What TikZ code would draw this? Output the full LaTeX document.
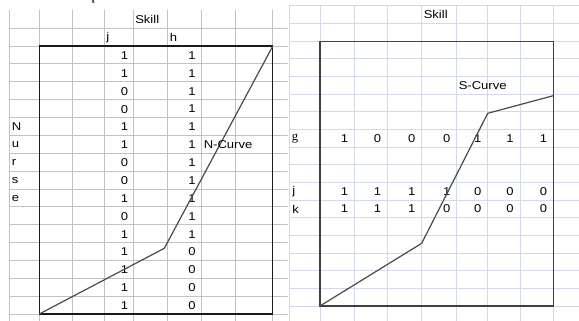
\documentclass[tikz,border=0pt]{standalone}
\usepackage{fontspec}
\setmainfont{Liberation Serif}
\newfontfamily\cellfont[FakeStretch=1.15]{Liberation Sans}
\usepackage{tikz}
\usetikzlibrary{positioning}
\definecolor{gridgray}{HTML}{C2C2C2}
\definecolor{gridblue}{HTML}{D2D9E7}
\definecolor{curvegray}{HTML}{4A4A4A}

\begin{document}
\begin{tikzpicture}[x=0.75pt,y=-0.75pt,
  cell/.style={font=\cellfont\fontsize{8.5}{10}\selectfont,inner sep=0pt},
  num/.style={cell,anchor=east},
  lab/.style={cell,anchor=west},
  frame/.style={line width=1.1pt,black!90},
  curve/.style={line width=0.9pt,curvegray}]
\useasboundingbox (0,0) rectangle (579,321);
\node[anchor=base west,inner sep=0pt,font=\fontsize{12}{14}\selectfont] (ptail) at (91,-0.8) {p};
% left sheet
\foreach \x in {9.3,39.3,72.7,104,133.3,167.7,201,235.3,272.7}
  \draw[gridgray,line width=0.75pt] (\x,10.4) -- (\x,321);
\foreach \k in {1,...,17}
  \draw[gridgray,line width=0.75pt] (9.3,10.4+17.86*\k) -- (288,10.4+17.86*\k);
\node[lab] (skillL) at (135,19.4) {Skill};
\node[lab] (jcol) at (106,37.3) {j};
\node[lab] (hcol) at (169.5,37.3) {h};
\foreach \j/\h [count=\r from 2] in {1/1,1/1,0/1,0/1,1/1,1/1,0/1,0/1,1/1,0/1,1/1,1/0,1/0,1/0,1/0} {
  \node[num] (j\r) at (128.3,10.4+17.86*\r+9.4) {\j};
  \node[num] (h\r) at (196,10.4+17.86*\r+9.4) {\h};
}
\foreach \c [count=\r from 6] in {N,u,r,s,e}
  \node[lab] (nurse\r) at (11.5,10.4+17.86*\r+9.4) {\c};
\coordinate (lbl) at (39.3,314);
\coordinate (ltr) at (272.7,46.2);
\coordinate (nkink) at (164.3,248.3);
\draw[frame] (lbl) rectangle (ltr);
\draw[curve] (lbl) -- (nkink) -- (ltr);
\node[lab] (ncurve) at (203.5,144.8) {N-Curve};
% right sheet
\foreach \x in {289.3,320,354.3,387.3,421.7,456.7,487.7,520,553.3}
  \draw[gridblue,line width=0.75pt] (\x,5) -- (\x,321);
\foreach \k in {0,...,17}
  \draw[gridblue,line width=0.75pt] (289.3,6+17.65*\k) -- (579,6+17.65*\k);
\node[lab] (skillR) at (423.5,14.8) {Skill};
\node[lab] (scurve) at (458.5,85.2) {S-Curve};
\node[lab,font=\rmfamily\fontsize{9.5}{11}\selectfont] (grow) at (291.5,138.4) {g};
\node[lab] (jrow) at (292,191.3) {j};
\node[lab] (krow) at (292,209) {k};
\foreach \g/\j/\k/\xr [count=\c] in {1/1/1/354.3,0/1/1/387.3,0/1/1/421.7,0/1/0/456.7,1/0/0/487.7,1/0/0/520,1/0/0/553.3} {
  \node[num] (g\c) at (\xr-6,138.4) {\g};
  \node[num] (jr\c) at (\xr-6,191.3) {\j};
  \node[num] (k\c) at (\xr-6,209) {\k};
}
\coordinate (rbl) at (320,306);
\coordinate (rtr) at (553.3,41.3);
\coordinate (skink1) at (421.7,243.3);
\coordinate (skink2) at (487.7,113.3);
\coordinate (send) at (553.3,95.7);
\draw[frame,black!75] (rbl) rectangle (rtr);
\draw[curve] (rbl) -- (skink1) -- (skink2) -- (send);
\end{tikzpicture}
\end{document}
